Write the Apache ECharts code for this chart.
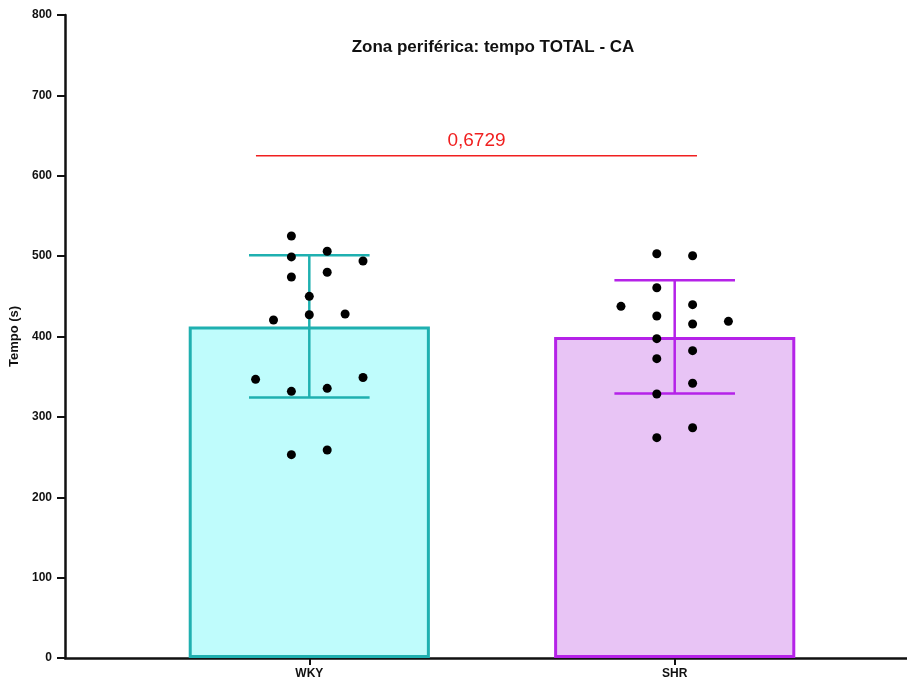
<!DOCTYPE html>
<html><head><meta charset="utf-8">
<script src="https://cdn.jsdelivr.net/npm/echarts@6/dist/echarts.min.js"></script>
<style>html,body{margin:0;padding:0;background:#fff}#c{width:907px;height:683px}</style>
</head><body><div id="c"></div>
<script>
const categories = ['WKY', 'SHR'];
const means = [412.5, 399.5];
const sds = [88.5, 70.5];
const wkyValues = [525, 506, 499, 494, 474, 480, 450, 427, 428, 420.5, 346.7, 349, 331.8, 335.5, 253, 258.8];
const wkyJitter = [-0.049, 0.049, -0.049, 0.147, -0.049, 0.049, 0, 0, 0.098, -0.098, -0.147, 0.147, -0.049, 0.049, -0.049, 0.049];
const shrValues = [503, 500.5, 460.7, 437.5, 439.6, 425.5, 415.6, 418.9, 397.3, 382.4, 372.4, 341.8, 328.5, 286.5, 274.1];
const shrJitter = [-0.049, 0.049, -0.049, -0.147, 0.049, -0.049, 0.049, 0.147, -0.049, 0.049, -0.049, 0.049, -0.049, 0.049, -0.049];
const yTicks = [0, 100, 200, 300, 400, 500, 600, 700, 800];
const pValueText = '0,6729';
const pValueLevel = 625;
const pValueSpan = [-0.146, 1.061];

const edgeColors = ['#1fb0b0', '#b522e8'];
const fillColors = ['#bffcfc', '#e8c4f5'];

const chart = echarts.init(document.getElementById('c'));
const FONT = 'Liberation Sans, Arial, sans-serif';
const points = [];
wkyValues.forEach((v, i) => points.push([0 + wkyJitter[i], v]));
shrValues.forEach((v, i) => points.push([1 + shrJitter[i], v]));

const yBase = { min: yTicks[0], max: yTicks[yTicks.length - 1], interval: 100 };

chart.setOption({
  animation: false,
  title: {
    text: 'Zona periférica: tempo TOTAL - CA',
    left: 488, top: 34, textAlign: 'center',
    textStyle: { fontFamily: FONT, fontSize: 17, fontWeight: 'bold', color: '#111' }
  },
  grid: [
    { left: 65, right: 0, top: 15, bottom: 25 },
    { left: 126.6, right: 49.6, top: 15, bottom: 25 }
  ],
  xAxis: [
    { type: 'value', gridIndex: 0, min: 0, max: 1, axisLine: { show: true, onZero: false, lineStyle: { color: '#111', width: 2.5 } },
      axisTick: { show: false }, axisLabel: { show: false }, splitLine: { show: false } },
    { type: 'category', gridIndex: 1, data: categories, axisLine: { show: false },
      axisTick: { show: true, alignWithLabel: true, length: 7, lineStyle: { color: '#111', width: 2 } },
      axisLabel: { fontFamily: FONT, fontSize: 12, fontWeight: 'bold', color: '#111', margin: 10 } },
    { type: 'value', gridIndex: 1, min: -0.5, max: 1.5, show: false }
  ],
  yAxis: [
    Object.assign({ type: 'value', gridIndex: 0, name: 'Tempo (s)', nameLocation: 'middle', nameGap: 41, nameRotate: 90,
      nameTextStyle: { fontFamily: FONT, fontSize: 13, fontWeight: 'bold', color: '#111' },
      axisLine: { show: true, lineStyle: { color: '#111', width: 2.5 } },
      axisTick: { show: true, length: 8, lineStyle: { color: '#111', width: 2 } },
      axisLabel: { fontFamily: FONT, fontSize: 12, fontWeight: 'bold', color: '#111', margin: 13 },
      splitLine: { show: false } }, yBase),
    Object.assign({ type: 'value', gridIndex: 1, show: false, splitLine: { show: false } }, yBase)
  ],
  series: [
    {
      type: 'bar', xAxisIndex: 1, yAxisIndex: 1, barWidth: '66%',
      data: means.map((m, i) => ({ value: m, itemStyle: { color: fillColors[i], borderColor: edgeColors[i], borderWidth: 3 } }))
    },
    {
      type: 'custom', xAxisIndex: 1, yAxisIndex: 1, z: 5,
      data: means.map((m, i) => [i, m - sds[i], m + sds[i]]),
      renderItem: function (params, api) {
        const i = api.value(0);
        const lo = api.coord([i, api.value(1)]);
        const hi = api.coord([i, api.value(2)]);
        const half = api.size([1, 0])[0] * 0.66 / 4;
        const style = { stroke: edgeColors[i], lineWidth: 2.5, fill: null };
        return { type: 'group', children: [
          { type: 'line', shape: { x1: lo[0], y1: lo[1], x2: hi[0], y2: hi[1] }, style: style },
          { type: 'line', shape: { x1: hi[0] - half, y1: hi[1], x2: hi[0] + half, y2: hi[1] }, style: style },
          { type: 'line', shape: { x1: lo[0] - half, y1: lo[1], x2: lo[0] + half, y2: lo[1] }, style: style }
        ]};
      }
    },
    {
      type: 'scatter', xAxisIndex: 2, yAxisIndex: 1, z: 6, symbolSize: 9,
      itemStyle: { color: '#000', opacity: 1 }, data: points
    },
    {
      type: 'custom', xAxisIndex: 2, yAxisIndex: 1, z: 7,
      data: [[pValueSpan[0], pValueSpan[1], pValueLevel]],
      renderItem: function (params, api) {
        const a = api.coord([api.value(0), api.value(2)]);
        const b = api.coord([api.value(1), api.value(2)]);
        return { type: 'group', children: [
          { type: 'line', shape: { x1: a[0], y1: a[1], x2: b[0], y2: b[1] }, style: { stroke: '#f02020', lineWidth: 1.5 } },
          { type: 'text', x: (a[0] + b[0]) / 2, y: a[1] - 5, style: { text: pValueText, fill: '#f02020', font: '19px ' + FONT, textAlign: 'center', textVerticalAlign: 'bottom' } }
        ]};
      }
    }
  ]
});
</script></body></html>
